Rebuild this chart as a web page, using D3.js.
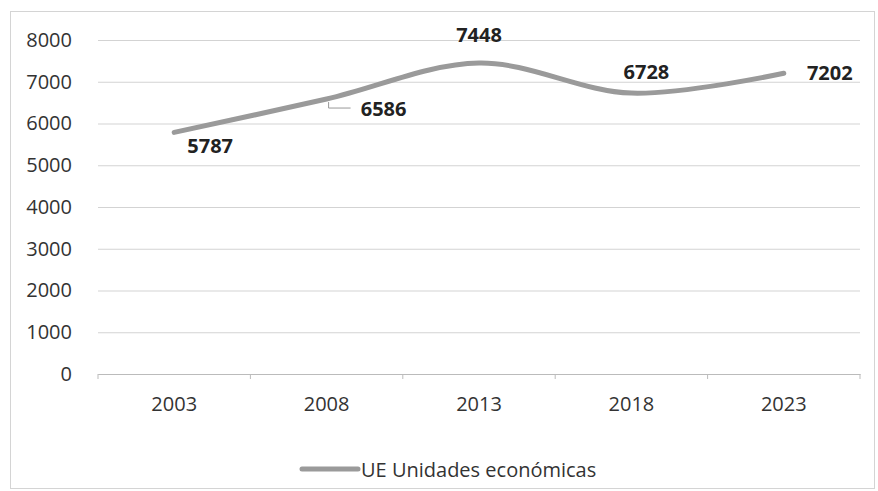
<!DOCTYPE html>
<html lang="es">
<head>
<meta charset="UTF-8">
<script src="https://cdn.jsdelivr.net/npm/d3@7/dist/d3.min.js"></script>
<style>
  body { margin: 0; background: #fff; }
  svg text { font-family: "Open Sans", "Noto Sans", sans-serif; fill: #333; }
  .lbl { font-weight: bold; font-size: 20px; fill: #222; }
</style>
</head>
<body>
<div id="chart"></div>
<script>
// data
const years = ["2003", "2008", "2013", "2018", "2023"];
const values = [5787, 6586, 7448, 6728, 7202];
const yTicks = [0, 1000, 2000, 3000, 4000, 5000, 6000, 7000, 8000];
const seriesName = "UE Unidades económicas";

const width = 878, height = 491;
const margin = {top: 40, right: 18, bottom: 117, left: 98};
const graphWidth = width - margin.left - margin.right;
const graphHeight = height - margin.top - margin.bottom;

const svg = d3.select("#chart").append("svg")
  .attr("width", width).attr("height", height);

// outer chart border
svg.append("rect")
  .attr("x", 10.5).attr("y", 11.5)
  .attr("width", 864).attr("height", 477)
  .attr("fill", "none").attr("stroke", "#d4d4d4");

const graph = svg.append("g")
  .attr("transform", `translate(${margin.left},${margin.top})`);

const xScale = d3.scaleBand().domain(years).range([0, graphWidth]);
const yScale = d3.scaleLinear().domain([0, 8000]).range([graphHeight, 0]);

// grid
graph.append("g")
  .call(d3.axisLeft(yScale).tickValues(yTicks).tickSize(-graphWidth).tickFormat(""))
  .call(g => g.select(".domain").remove())
  .call(g => g.selectAll("line").attr("stroke", "#d3d3d3"));

// y axis labels
graph.append("g")
  .call(d3.axisLeft(yScale).tickValues(yTicks).tickSize(0).tickPadding(26).tickFormat(d3.format("d")))
  .call(g => g.select(".domain").remove())
  .call(g => g.selectAll("text").attr("font-size", 20).attr("fill", "#333"));

// x axis
const gx = graph.append("g").attr("transform", `translate(0,${graphHeight})`);
gx.call(d3.axisBottom(xScale).tickSize(0).tickPadding(23))
  .call(g => g.select(".domain").attr("stroke", "#bbb"))
  .call(g => g.selectAll("text").attr("font-size", 20).attr("fill", "#333"));
// tick marks between categories
const bounds = years.map(y => xScale(y)).concat([graphWidth]);
gx.selectAll(".sep").data(bounds).enter().append("line")
  .attr("x1", d => d).attr("x2", d => d)
  .attr("y1", 0).attr("y2", 5)
  .attr("stroke", "#bbb");

// line
const line = d3.line()
  .x((d, i) => xScale(years[i]) + xScale.bandwidth() / 2)
  .y(d => yScale(d))
  .curve(d3.curveCatmullRom.alpha(0.5));

graph.append("path")
  .datum(values)
  .attr("d", line)
  .attr("fill", "none")
  .attr("stroke", "#9a9a9a")
  .attr("stroke-width", 5)
  .attr("stroke-linecap", "round");

// data labels (offsets relative to the point)
const offs = [[36, 13], [57, 9], [0, -29], [15, -22], [46, -1]];
graph.selectAll(".lbl").data(values).enter().append("text")
  .attr("class", "lbl")
  .attr("text-anchor", "middle")
  .attr("dominant-baseline", "central")
  .attr("x", (d, i) => xScale(years[i]) + xScale.bandwidth() / 2 + offs[i][0])
  .attr("y", (d, i) => yScale(d) + offs[i][1])
  .text(d => d);

// leader line for 6586
const cx1 = xScale(years[1]) + xScale.bandwidth() / 2;
const cy1 = yScale(values[1]);
graph.append("path")
  .attr("d", `M${cx1 + 2},${cy1 + 3} L${cx1 + 2},${cy1 + 9} L${cx1 + 24},${cy1 + 9}`)
  .attr("fill", "none").attr("stroke", "#999").attr("stroke-width", 1);

// legend
const lg = svg.append("g").attr("transform", "translate(302,469)");
lg.append("line")
  .attr("x1", 0).attr("x2", 56).attr("y1", 0).attr("y2", 0)
  .attr("stroke", "#9a9a9a").attr("stroke-width", 5).attr("stroke-linecap", "round");
lg.append("text")
  .attr("x", 59).attr("y", 0)
  .attr("dominant-baseline", "central")
  .attr("font-size", 20)
  .text(seriesName);
</script>
</body>
</html>
